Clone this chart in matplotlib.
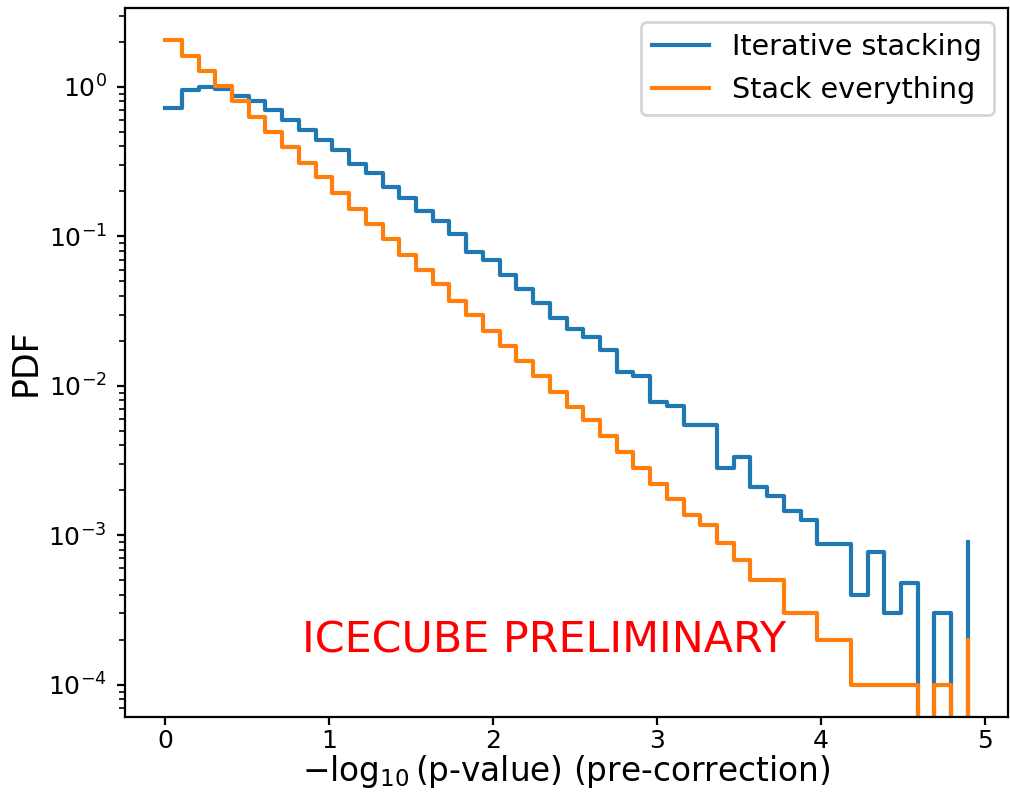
import numpy as np
import matplotlib
matplotlib.use("Agg")
import matplotlib.pyplot as plt

# 49 bins of -log10(p) between 0 and 5, normalised as a density
bin_edges = np.linspace(0, 5, 50)

iterative = [0.726, 0.95, 1.0, 0.965, 0.87, 0.805, 0.70, 0.60, 0.515, 0.44,
             0.376, 0.306, 0.266, 0.213, 0.181, 0.149, 0.126, 0.104, 0.079, 0.069,
             0.0553, 0.0446, 0.0357, 0.0286, 0.0242, 0.0211, 0.0175, 0.0124, 0.0117, 0.0078,
             0.0073, 0.00545, 0.00545, 0.00283, 0.00334, 0.00212, 0.00183, 0.00146, 0.00126, 0.00088,
             0.00088, 0.0004, 0.00077, 0.0003, 0.00048, 0, 0.0003, 0, 0.0009]

stack_all = [2.07, 1.62, 1.28, 1.02, 0.805, 0.63, 0.50, 0.395, 0.31, 0.25,
             0.195, 0.152, 0.122, 0.0964, 0.0753, 0.060, 0.0479, 0.0372, 0.0298, 0.0234,
             0.0185, 0.0146, 0.0117, 0.0091, 0.00723, 0.00589, 0.00459, 0.0036, 0.00283, 0.00221,
             0.00174, 0.00137, 0.00117, 0.00089, 0.00068, 0.0005, 0.0005, 0.0003, 0.0003, 0.0002,
             0.0002, 0.0001, 0.0001, 0.0001, 0.0001, 0, 0.0001, 0, 0.0002]

labels = ["Iterative stacking", "Stack everything"]

fig = plt.figure(figsize=(5.05, 3.965), dpi=200)
ax = fig.add_axes([125 / 1010, 1 - 717 / 793, 883 / 1010, 709.5 / 793])
ax.set_yscale("log")

ax.step(bin_edges[:-1], iterative, where="post", color="C0", lw=1.5, label=labels[0])
ax.step(bin_edges[:-1], stack_all, where="post", color="C1", lw=1.5, label=labels[1])

ax.text(0.835, 1.64e-4, "ICECUBE PRELIMINARY", color="red", fontsize=15.4)

ax.set_xlabel(r"$-\log_{10}$(p-value) (pre-correction)", fontsize=11.8, labelpad=0)
ax.set_ylabel("PDF", fontsize=12.5, labelpad=2)
ax.tick_params(labelsize=9, length=3)
ax.tick_params(axis="x", pad=1.5)
ax.legend(loc="upper right", fontsize=10.3)

fig.savefig("out.png", dpi=200)
